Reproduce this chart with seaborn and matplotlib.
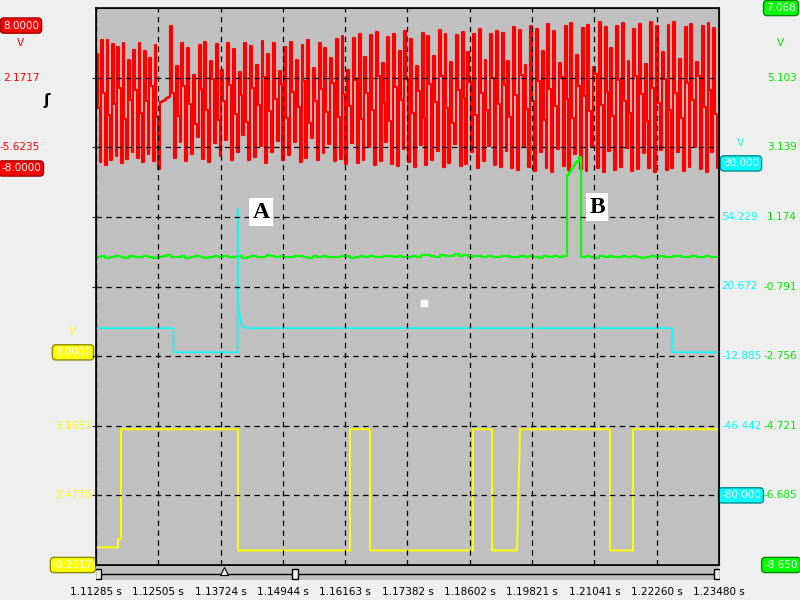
import numpy as np
import matplotlib
matplotlib.use("Agg")
import matplotlib.pyplot as plt
import matplotlib.transforms as mtransforms
import seaborn as sns

# ---- time base (s) ----
t_start, t_end = 1.11285, 1.23480
time_ticks = [1.11285, 1.12505, 1.13724, 1.14944, 1.16163, 1.17382,
              1.18602, 1.19821, 1.21041, 1.22260, 1.23480]
time_labels = ["1.11285 s", "1.12505 s", "1.13724 s", "1.14944 s", "1.16163 s", "1.17382 s",
               "1.18602 s", "1.19821 s", "1.21041 s", "1.22260 s", "1.23480 s"]

# ---- channel scales (V) ----
red_lim = (-52.395, 9.9669)
red_ticks = [2.1717, -5.6235]
red_boxes = [8.0, -8.0]

green_lim = (-8.650, 7.068)
green_ticks = [5.103, 3.139, 1.174, -0.791, -2.756, -4.721, -6.685]
green_boxes = [7.068, -8.650]

cyan_lim = (-113.557, 154.9)
cyan_ticks = [54.229, 20.672, -12.885, -46.442]
cyan_boxes = [80.0, -80.0]

yellow_lim = (-0.2117, 21.298)
yellow_ticks = [5.1657, 2.4770]
yellow_boxes = [8.0, -0.2117]

# ---- red channel: high / middle / low level of each oscillation ----
red_seg1_hi = [4.8, 6.4, 6.4, 5.9, 5.6, 6.0, 4.2, 5.3, 6.0, 5.1, 4.4, 5.8]
red_seg1_mid = [-1.2, 0.5, -2.0, -0.8, 1.0, -2.5, -0.3, 0.8, -1.8, -0.5, 1.2, -2.2]
red_seg1_lo = [-7.3, -7.6, -7.0, -6.6, -7.4, -6.9, -6.2, -6.8, -7.3, -6.4, -7.2, -8.1]
red_gap = [-0.6, -0.4, -0.3, -0.1, 0.0]
red_seg2_hi = [8.0, 3.5, 6.0, 5.5, 2.5, 5.8, 6.2, 4.0, 5.9, 3.0, 6.1, 5.4, 2.8, 6.0, 5.7, 3.6,
               6.3, 4.8, 6.0, 2.9, 5.6, 6.2, 4.1, 5.8, 6.4, 3.2, 6.0, 5.5, 4.4, 6.5, 6.8,
               3.0, 6.6, 7.1, 4.5, 6.9, 7.3, 3.8, 6.7, 7.0, 5.2, 7.4, 6.5, 3.5, 7.2, 6.8,
               4.6, 7.5, 7.0, 3.9, 6.9, 7.3, 5.0, 7.1, 7.6, 4.2, 7.0, 7.4,
               7.2, 4.0, 7.8, 7.5, 3.6, 8.0, 7.6, 5.1, 8.2, 7.4, 3.8, 7.9, 8.3, 4.7, 7.7,
               8.1, 3.4, 8.4, 7.8, 5.5, 8.0, 8.3, 4.0, 7.6, 8.2, 3.7, 8.4, 7.9, 5.0, 8.1,
               8.4, 4.3, 7.8, 8.2, 3.9, 8.0, 8.3, 7.7]
red_seg2_mid = [0.5, -2.1, 1.2, -0.8, -3.0, 0.9, -1.5, 2.0, -2.6, -0.4, 1.4, -1.9, 0.2, -2.8,
                1.0, -0.9, 2.2, -1.6, -0.2, 1.5, -2.4, 0.6, -1.1, 1.8, -2.9, -0.5, 0.9, -1.7,
                1.6, -2.2, 0.3,
                -1.0, 1.9, -2.5, 0.4, -1.4, 2.3, -0.7, -2.7, 1.1, -0.3, 2.0, -1.8, 0.7, -2.3,
                1.5, -0.6, 2.4, -1.2, -2.9, 0.8, -0.1, 1.7, -2.0, 0.5, -1.5, 2.1, -0.8,
                1.3, -2.2, 0.2, 2.5, -1.3, -0.4, 1.8, -2.6, 0.9, -1.0, 2.2, -0.2, -2.4, 1.2,
                0.1, -1.6, 2.6, -0.9, 0.6, -2.1, 1.9, -0.5, -1.8, 2.3, 0.3, -2.7, 1.0, -0.7,
                2.0, -1.4, 0.4, -2.3, 1.6, -0.3, 2.4, -1.1, 0.8, -1.9]
red_seg2_lo = [-6.8, -5.0, -7.2, -6.4, -4.5, -6.9, -7.3, -5.2, -6.6, -4.8, -7.0, -6.2, -4.3,
               -7.1, -6.7, -5.5, -7.4, -6.1, -4.9, -7.0, -6.5, -5.0, -7.3, -6.8, -4.6, -7.1,
               -6.3, -5.3, -7.2, -6.9, -7.5,
               -5.2, -7.4, -7.0, -5.6, -7.6, -7.2, -5.0, -7.5, -7.7, -5.8, -7.3, -7.8, -5.4,
               -7.6, -7.1, -6.0, -7.8, -7.4, -5.3, -7.7, -7.5, -6.1, -7.9, -7.2, -5.5, -7.6,
               -7.8,
               -6.0, -7.9, -8.2, -5.6, -7.8, -8.3, -6.2, -8.0, -8.4, -5.8, -7.7, -8.2, -6.4,
               -8.1, -8.3, -5.5, -7.9, -8.4, -6.0, -8.2, -7.8, -5.7, -8.3, -8.1, -6.3, -7.9,
               -8.4, -5.9, -8.2, -8.0, -6.1, -8.3, -7.8, -5.6, -8.1, -8.4, -6.2, -7.9]
red_seg_edges = [1.11285, 1.12538, 1.12734, 1.23480]

# ---- green channel ----
green_pre = [0.03, 0.06, 0.02, 0.05, 0.08, 0.04, 0.01, 0.06, 0.05, 0.03,
             0.07, 0.04, 0.02, 0.05, 0.06, 0.09, 0.04, 0.03, 0.06, 0.02,
             0.05, 0.07, 0.04, 0.01, 0.05, 0.06, 0.03, 0.08, 0.05, 0.04,
             0.06, 0.02, 0.05, 0.07, 0.03, 0.05, 0.09, 0.06, 0.04, 0.07,
             0.05, 0.03, 0.06, 0.08, 0.04, 0.02, 0.06, 0.05, 0.07, 0.03,
             0.05, 0.04, 0.08, 0.06, 0.02, 0.05, 0.07, 0.04, 0.06, 0.03,
             0.05, 0.08, 0.06, 0.04, 0.07, 0.05, 0.03, 0.06, 0.04, 0.09,
             0.11, 0.07, 0.05, 0.10, 0.08, 0.06, 0.12, 0.07, 0.09, 0.05,
             0.08, 0.06, 0.04, 0.07, 0.05, 0.03, 0.06, 0.08, 0.04, 0.05,
             0.07, 0.03, 0.06, 0.05, 0.02, 0.06, 0.04, 0.07, 0.05, 0.06]
green_pulse = [2.36, 2.44, 2.52, 2.60, 2.68, 2.76, 2.87]
green_post = [0.04, 0.07, 0.05, 0.02, 0.06, 0.04, 0.08, 0.05, 0.03, 0.06,
              0.05, 0.07, 0.04, 0.02, 0.05, 0.06, 0.03, 0.07, 0.05, 0.04,
              0.06, 0.08, 0.05, 0.03, 0.06, 0.04, 0.05, 0.07, 0.04, 0.05]
green_edges = [1.11285, 1.20505, 1.20779, 1.23480]

# ---- cyan channel ----
cyan_t = [1.11285, 1.12802, 1.12802, 1.14059, 1.14059, 1.14066, 1.14075, 1.14094, 1.14114,
          1.14143, 1.14202, 1.14260, 1.22560, 1.22560, 1.23480]
cyan_v = [0.6, 0.6, -11.0, -11.0, 58.1, 12.3, 12.3, 7.5, 5.0, 1.7, 0.9, 0.6, 0.6, -11.0, -11.0]

# ---- yellow channel ----
yellow_t = [1.11285, 1.11716, 1.11716, 1.11774, 1.11774, 1.14065, 1.14065, 1.16257, 1.16257,
            1.16649, 1.16649, 1.18665, 1.18665, 1.19037, 1.19037, 1.19526, 1.19585, 1.21347,
            1.21347, 1.21797, 1.21797, 1.23480]
yellow_v = [0.47, 0.47, 0.78, 0.78, 5.03, 5.03, 0.35, 0.35, 5.03, 5.03, 0.35, 0.35, 5.03, 5.03,
            0.35, 0.35, 5.03, 5.03, 0.35, 0.35, 5.03, 5.03]

# ---- markers A / B, cursor square, scroll bar ----
marks = ["A", "B"]
marks_t = [1.14515, 1.21092]
marks_div = [5.07, 5.14]
cursor_t, cursor_div = 1.17706, 3.76
handles_t = [1.11324, 1.15180, 1.23441]
trigger_t = 1.13791


def steps(edges, levels):
    edges = np.asarray(edges)
    levels = np.asarray(levels)
    return np.repeat(edges, 2)[1:-1], np.repeat(levels, 2)


def interleave(*cols):
    return np.column_stack(cols).ravel()


sns.set_style("white")
plt.rcParams["font.family"] = ["DejaVu Sans"]
fs = 7.5

W, H = 800, 600
fig = plt.figure(figsize=(8, 6), dpi=100, facecolor="#efefef")
rect = [96 / W, 1 - 565 / H, 623 / W, 557 / H]

ax_bg = fig.add_axes(rect, zorder=0)
ax_bg.set_facecolor("#c0c0c0")
ax_bg.set_xticks([])
ax_bg.set_yticks([])


def channel(z):
    a = fig.add_axes(rect, zorder=z)
    a.patch.set_visible(False)
    return a


ax_red = channel(1)
ax_yel = channel(2)
ax_grn = channel(3)
ax_cyn = channel(4)

# red
lv = np.concatenate([interleave(red_seg1_hi, red_seg1_mid, red_seg1_lo), red_gap,
                     interleave(red_seg2_hi, red_seg2_mid, red_seg2_lo)])
ed = np.concatenate([np.linspace(red_seg_edges[0], red_seg_edges[1], 3 * len(red_seg1_hi) + 1)[:-1],
                     np.linspace(red_seg_edges[1], red_seg_edges[2], len(red_gap) + 1)[:-1],
                     np.linspace(red_seg_edges[2], red_seg_edges[3], 3 * len(red_seg2_hi) + 1)])
x, y = steps(ed, lv)
sns.lineplot(x=x, y=y, ax=ax_red, color="#ff0000", lw=1.55, estimator=None, sort=False)

# yellow
sns.lineplot(x=yellow_t, y=yellow_v, ax=ax_yel, color="#ffff00", lw=1.4, estimator=None, sort=False)

# green
lv = np.concatenate([green_pre, green_pulse, green_post])
ed = np.concatenate([np.linspace(green_edges[0], green_edges[1], len(green_pre) + 1)[:-1],
                     np.linspace(green_edges[1], green_edges[2], len(green_pulse) + 1)[:-1],
                     np.linspace(green_edges[2], green_edges[3], len(green_post) + 1)])
x, y = steps(ed, lv)
sns.lineplot(x=x, y=y, ax=ax_grn, color="#00ff00", lw=1.5, estimator=None, sort=False)

# cyan
sns.lineplot(x=cyan_t, y=cyan_v, ax=ax_cyn, color="#00ffff", lw=1.2, estimator=None, sort=False)

for a, lim in ((ax_red, red_lim), (ax_yel, yellow_lim), (ax_grn, green_lim), (ax_cyn, cyan_lim)):
    a.set_xlim(t_start, t_end)
    a.set_ylim(*lim)
    a.axis("off")

# grid / frame on top
ax = fig.add_axes(rect, zorder=5)
ax.patch.set_visible(False)
ax.set_ylim(0, 8)
ax.set_xlim(t_start, t_end)
ax.set_xticks(time_ticks)
ax.set_xticklabels(time_labels, fontsize=fs)
ax.set_yticks(range(1, 8))
ax.set_yticklabels([])
ax.tick_params(axis="x", direction="in", length=3, pad=16, colors="black")
ax.tick_params(axis="y", direction="inout", length=6, left=True, right=False)
ax.grid(True, color="black", lw=0.9, ls=(0, (4.3, 3.6)))
for s in ax.spines.values():
    s.set_color("black")
    s.set_linewidth(1.2)

for m, mt, md in zip(marks, marks_t, marks_div):
    ax.text(mt, md, m, fontsize=17, fontweight="bold", family="Liberation Serif",
            ha="center", va="center", color="black",
            bbox=dict(boxstyle="square,pad=0.14", fc="white", ec="none"))
ax.plot([cursor_t], [cursor_div], marker="s", ms=4.5, color="white", ls="none")


# ---- channel labels ----
def labels(a, xs, vals, fmt, color, ha):
    tr = mtransforms.blended_transform_factory(fig.transFigure, a.transData)
    for v in vals:
        fig.text(xs / W, v, fmt.format(v), transform=tr, color=color, ha=ha, va="center",
                 fontsize=fs)


def boxes(a, xs, vals, fmt, fc, ec):
    tr = mtransforms.blended_transform_factory(fig.transFigure, a.transData)
    for v in vals:
        fig.text(xs / W, v, fmt.format(v), transform=tr, color="white", ha="center",
                 va="center", fontsize=fs,
                 bbox=dict(boxstyle="round,pad=0.25,rounding_size=0.35", fc=fc, ec=ec, lw=1))


labels(ax_red, 40, red_ticks, "{:.4f}", "#ff0000", "right")
boxes(ax_red, 21, red_boxes, "{:.4f}", "#ff0000", "#a00000")
labels(ax_yel, 92, yellow_ticks, "{:.4f}", "#ffff00", "right")
boxes(ax_yel, 73, yellow_boxes, "{:.4f}", "#ffff00", "#8a8a00")
labels(ax_cyn, 721, cyan_ticks, "{:.3f}", "#00ffff", "left")
boxes(ax_cyn, 741, cyan_boxes, "{:.3f}", "#00ffff", "#008c8c")
labels(ax_grn, 797, green_ticks, "{:.3f}", "#00e600", "right")
boxes(ax_grn, 781, green_boxes, "{:.3f}", "#00ff00", "#008800")

fig.text(20 / W, 1 - 43 / H, "V", color="#ff0000", ha="center", va="center", fontsize=fs)
fig.text(780 / W, 1 - 43 / H, "V", color="#00e600", ha="center", va="center", fontsize=fs)
fig.text(740 / W, 1 - 143 / H, "V", color="#00ffff", ha="center", va="center", fontsize=fs)
fig.text(72 / W, 1 - 331 / H, "V", color="#ffff00", ha="center", va="center", fontsize=fs)
fig.text(47 / W, 1 - 100 / H, "ʃ", color="black", ha="center", va="center", fontsize=11,
         fontweight="bold")

# ---- scroll bar ----
sb = fig.add_axes([96 / W, 1 - 580 / H, 623 / W, 14 / H], zorder=6)
sb.set_facecolor("#c0c0c0")
sb.set_xlim(t_start, t_end)
sb.set_ylim(0, 1)
sb.set_xticks([])
sb.set_yticks([])
for s in sb.spines.values():
    s.set_visible(False)
sb.axhline(0.43, color="black", lw=1)
handle = [(-0.25, -0.5), (0.25, -0.5), (0.25, 0.5), (-0.25, 0.5), (-0.25, -0.5)]
sb.plot(handles_t, [0.43] * len(handles_t), marker=handle, ms=7.4, mfc="#efefef",
        mec="black", mew=1, ls="none")
sb.plot([trigger_t], [0.62], marker="^", ms=6, mfc="#efefef", mec="black", mew=0.8, ls="none")

fig.savefig("out.png", dpi=100, facecolor=fig.get_facecolor())
